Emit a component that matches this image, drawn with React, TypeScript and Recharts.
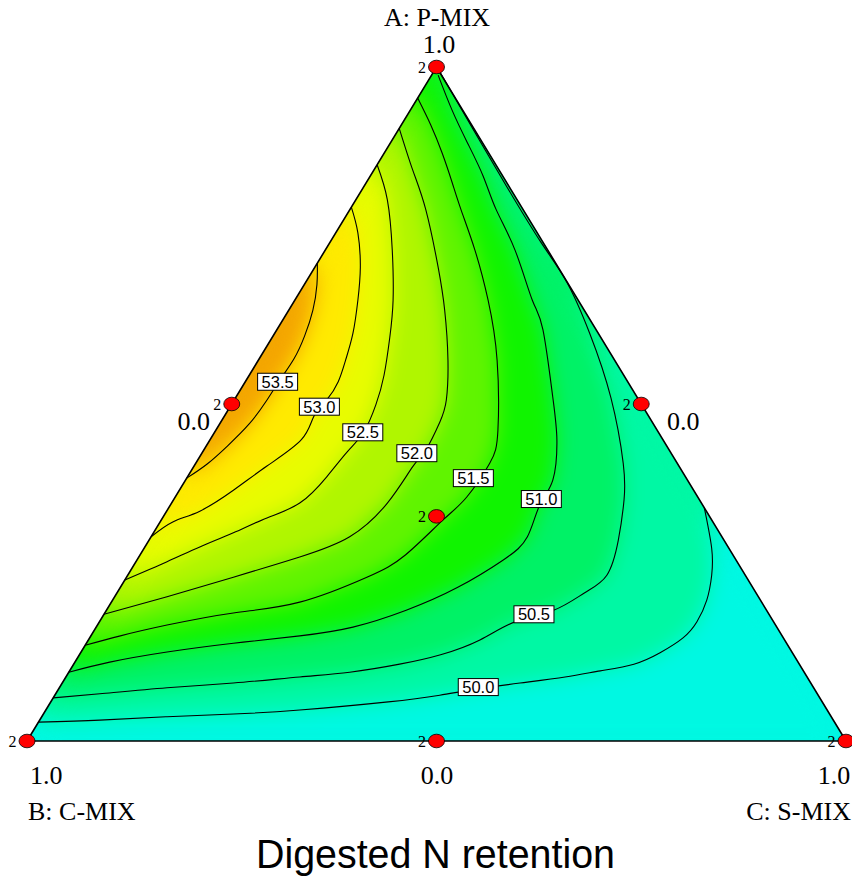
import React from 'react';
import { ScatterChart, Scatter, XAxis, YAxis } from 'recharts';

type Pt = { x: number; y: number };
type XY = [number, number];

// plot units: B = (0,0), C = (100,0), A = (50,100)
const vertexA: Pt = { x: 50, y: 100 };
const vertexB: Pt = { x: 0, y: 0 };
const vertexC: Pt = { x: 100, y: 0 };

// contour lines (plot units)
const contour535: XY[] = [[35.45,70.9],[35.4,67.7],[34.9,63.9],[33.9,60.1],[32.6,56.7],[30.9,53.6],[29.2,50.4],[27.1,47.0],[24.5,43.8],[22.0,41.1],[19.5,39.0]];
const contour530: XY[] = [[39.6,79.2],[40.4,75.4],[40.7,70.3],[40.4,65.4],[39.8,60.5],[38.9,56.5],[38.0,53.3],[36.6,50.6],[35.0,48.1],[33.5,44.7],[29.3,40.8],[25.2,37.2],[21.1,34.1],[17.8,32.5],[15.15,30.3]];
const contour525: XY[] = [[42.75,85.5],[44.0,80.3],[44.6,72.8],[44.7,65.4],[44.3,59.9],[43.6,54.3],[42.6,49.9],[41.1,45.8],[39.1,42.9],[36.6,39.2],[33.3,35.3],[29.3,33.1],[25.2,30.9],[21.1,28.8],[17.1,26.6],[11.95,23.9]];
const contour520: XY[] = [[45.45,90.9],[47.1,84.7],[48.7,78.8],[50.2,70.3],[51.0,63.9],[51.4,56.5],[51.2,50.6],[50.4,47.3],[48.7,43.2],[47.1,40.7],[44.0,35.3],[39.4,30.3],[33.3,27.3],[25.2,24.3],[17.1,21.4],[9.4,18.8]];
const contour515: XY[] = [[47.7,95.4],[49.3,91.4],[50.7,87.2],[51.9,82.9],[53.0,78.8],[54.7,72.8],[56.3,65.4],[57.4,56.5],[57.5,46.1],[56.5,41.2],[53.7,36.2],[50.8,32.8],[46.2,27.6],[41.5,24.3],[33.3,20.6],[25.2,19.0],[17.1,17.2],[11.4,15.6],[7.1,14.2]];
const contour510: XY[] = [[50.2,98.8],[51.9,93.6],[53.8,88.7],[55.7,83.8],[57.3,78.8],[59.6,72.8],[61.7,65.4],[63.0,61.0],[64.2,51.0],[64.7,44.7],[64.2,38.7],[62.6,35.0],[61.1,30.3],[58.2,26.9],[52.6,22.8],[46.3,19.4],[39.8,16.9],[33.3,15.6],[25.2,14.5],[17.1,13.2],[10.1,11.7],[5.1,10.2]];
const contour505: XY[] = [[50.4,99.3],[54.5,90.7],[58.6,82.2],[62.8,73.9],[65.9,68.1],[68.7,60.5],[71.3,50.9],[72.8,41.2],[72.9,35.8],[72.2,29.8],[70.8,24.6],[68.1,22.0],[64.3,19.4],[59.6,17.7],[55.3,15.0],[50.5,12.8],[45.5,11.4],[39.4,10.2],[33.3,9.5],[25.2,8.6],[17.1,7.9],[8.9,7.0],[3.2,6.4]];
const contour500: XY[] = [[82.7,34.6],[83.6,28.6],[83.6,24.6],[83.0,20.9],[81.8,17.7],[80.1,15.3],[77.3,13.1],[74.1,11.4],[70.0,10.4],[65.7,9.5],[60.2,8.6],[54.9,7.7],[50.4,6.8],[44.1,5.8],[33.3,4.6],[25.2,4.0],[17.1,3.6],[8.9,3.1],[1.4,2.8]];

const levelNames = ['50.0', '50.5', '51.0', '51.5', '52.0', '52.5', '53.0', '53.5'];
const contours = [contour500, contour505, contour510, contour515, contour520, contour525, contour530, contour535];
// band colour above each level, plus the base colour below 50.0
const baseColor = '#00f8e2';
const bandColors = ['#00f8a4', '#00f266', '#10f400', '#60f400', '#b0f600', '#e8fc00', '#ffea00', '#f5a400'];

// where the level labels sit
const labelPos: XY[] = [[55.1,8.0],[61.9,18.8],[62.8,35.9],[54.5,39.0],[47.6,42.7],[41.0,45.8],[35.7,49.6],[30.6,53.3]];

// design points and their replicate counts
const designPts: Pt[] = [vertexA, vertexB, vertexC, { x: 25, y: 50 }, { x: 75, y: 50 }, { x: 50, y: 0 }, { x: 50, y: 33.33 }];
const replicates = [2, 2, 2, 2, 2, 2, 2];

const toPts = (arr: XY[]): Pt[] => arr.map(([x, y]) => ({ x, y }));

// contours that start near the apex (50.0 .. 51.0) are closed through vertex A
const regions = contours.map((c, i) => ({
  color: bandColors[i],
  points: i <= 2 ? [...toPts(c), vertexA] : toPts(c),
}));

const levelLabels = labelPos.map(([x, y], i) => ({ x, y, label: levelNames[i] }));
const designData = designPts.map((p, i) => ({ ...p, count: replicates[i] }));

const serif = '"Times New Roman", "Liberation Serif", serif';
const sans = 'Arial, "Liberation Sans", sans-serif';

const W = 852;
const H = 878;
const chartMargin = { top: 67, right: 6, bottom: 137, left: 27 };

const noShape = () => <g />;

const LabelBox = (props: any) => {
  const { cx, cy, payload } = props;
  return (
    <g>
      <rect x={cx - 20} y={cy - 8.5} width={40} height={17} fill="#fff" stroke="#000" strokeWidth={1} />
      <text x={cx} y={cy + 6} textAnchor="middle" fontSize={16.5} fontFamily={sans} fill="#000">
        {payload.label}
      </text>
    </g>
  );
};

const DesignPoint = (props: any) => {
  const { cx, cy, payload } = props;
  return (
    <g>
      <ellipse cx={cx} cy={cy} rx={8} ry={6.8} fill="#ff0000" stroke="#000" strokeWidth={0.8} />
      <text x={cx - 10.5} y={cy + 6} textAnchor="end" fontSize={16} fontFamily={serif} fill="#000">
        {payload.count}
      </text>
    </g>
  );
};

export default function App() {
  return (
    <div style={{ position: 'absolute', left: 0, top: 0, width: W, height: H, background: '#fff' }}>
      <svg width={0} height={0} style={{ position: 'absolute' }}>
        <defs>
          <filter id="smoothField" x="0" y="0" width="1" height="1" colorInterpolationFilters="sRGB">
            <feGaussianBlur in="SourceGraphic" stdDeviation="10" result="blur" />
            <feColorMatrix in="blur" type="matrix" values="1 0 0 0 0  0 1 0 0 0  0 0 1 0 0  0 0 0 80 0" result="opaque" />
            <feComposite in="opaque" in2="SourceAlpha" operator="in" />
          </filter>
        </defs>
      </svg>

      {/* colour field */}
      <div style={{ position: 'absolute', left: 0, top: 0, width: W, height: H, filter: 'url(#smoothField)' }}>
        <ScatterChart width={W} height={H} margin={chartMargin}>
          <XAxis type="number" dataKey="x" domain={[0, 100]} hide />
          <YAxis type="number" dataKey="y" domain={[0, 100]} hide />
          <Scatter
            data={[vertexB, vertexC, vertexA]}
            line={{ fill: baseColor, stroke: 'none' }}
            shape={noShape}
            isAnimationActive={false}
          />
          {regions.map((r, i) => (
            <Scatter
              key={'fill' + i}
              data={r.points}
              line={{ fill: r.color, stroke: 'none' }}
              shape={noShape}
              isAnimationActive={false}
            />
          ))}
        </ScatterChart>
      </div>

      {/* contours, frame, labels, design points */}
      <div style={{ position: 'absolute', left: 0, top: 0, width: W, height: H }}>
        <ScatterChart width={W} height={H} margin={chartMargin}>
          <XAxis type="number" dataKey="x" domain={[0, 100]} hide />
          <YAxis type="number" dataKey="y" domain={[0, 100]} hide />
          {contours.map((c, i) => (
            <Scatter
              key={'line' + i}
              data={toPts(c)}
              line={{ stroke: '#000', strokeWidth: 1.1, fill: 'none' }}
              lineJointType="natural"
              shape={noShape}
              isAnimationActive={false}
            />
          ))}
          <Scatter
            data={[vertexB, vertexC, vertexA, vertexB]}
            line={{ stroke: '#000', strokeWidth: 1.6, fill: 'none' }}
            shape={noShape}
            isAnimationActive={false}
          />
          <Scatter data={levelLabels} shape={LabelBox} isAnimationActive={false} />
          <Scatter data={designData} shape={DesignPoint} isAnimationActive={false} />
        </ScatterChart>
      </div>

      <svg width={W} height={H} style={{ position: 'absolute', left: 0, top: 0, pointerEvents: 'none' }}>
        <g fontFamily={serif} fontSize={26} fill="#000">
          <text x={437} y={26} textAnchor="middle">A: P-MIX</text>
          <text x={439} y={53} textAnchor="middle">1.0</text>
          <text x={210} y={430} textAnchor="end">0.0</text>
          <text x={667} y={430} textAnchor="start">0.0</text>
          <text x={30} y={784} textAnchor="start">1.0</text>
          <text x={437} y={784} textAnchor="middle">0.0</text>
          <text x={834} y={784} textAnchor="middle">1.0</text>
          <text x={28} y={820} textAnchor="start">B: C-MIX</text>
          <text x={851} y={820} textAnchor="end">C: S-MIX</text>
        </g>
        <text x={256} y={868} fontFamily={sans} fontSize={41} textLength={359} lengthAdjust="spacingAndGlyphs" fill="#000">
          Digested N retention
        </text>
      </svg>
    </div>
  );
}
